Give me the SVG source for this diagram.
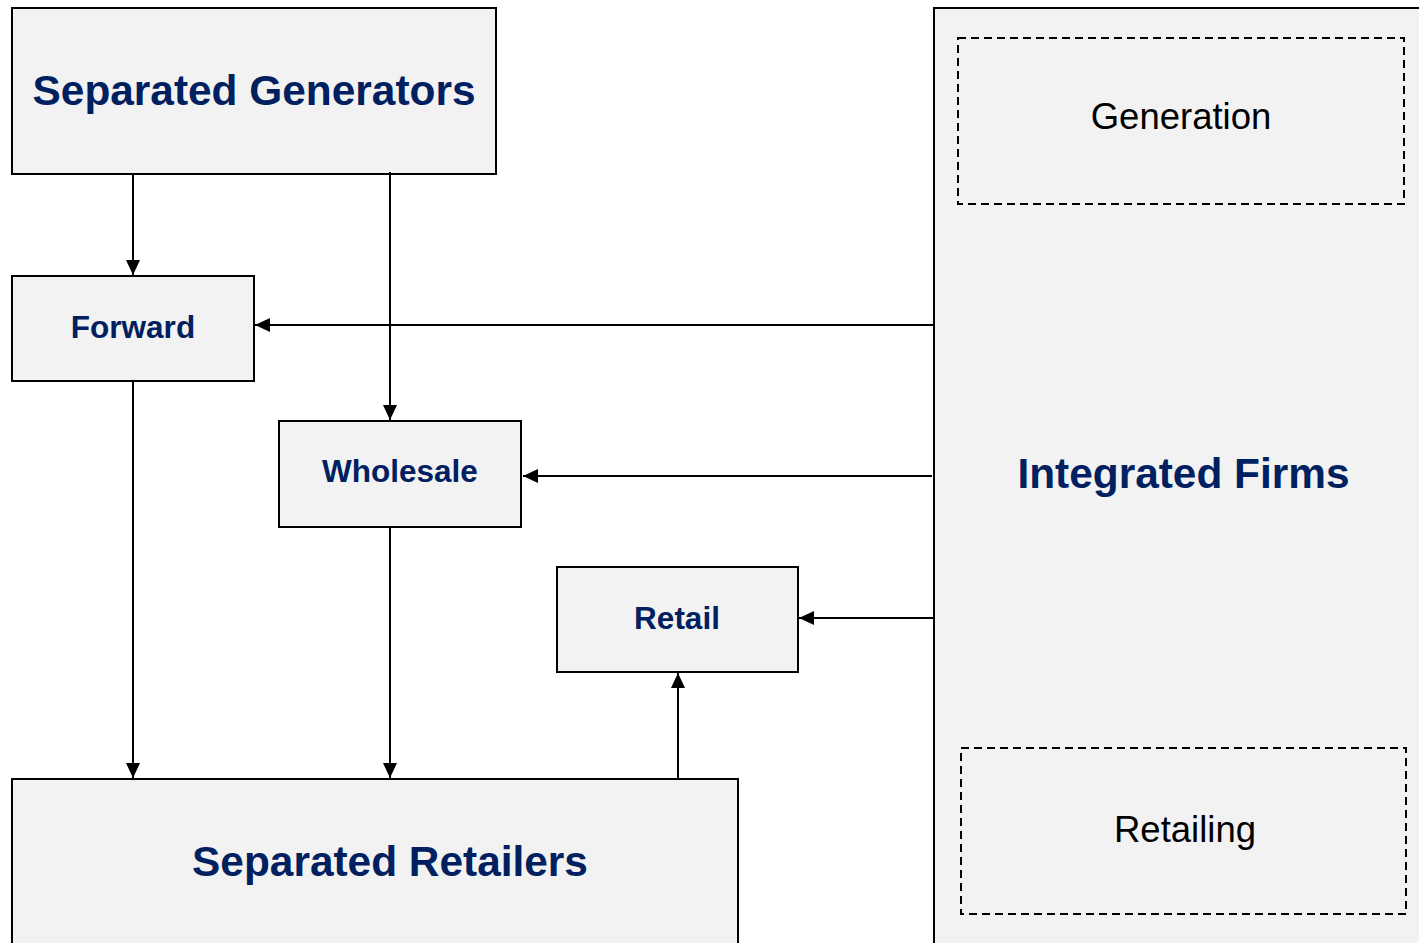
<svg xmlns="http://www.w3.org/2000/svg" width="1419" height="943" viewBox="0 0 1419 943">
  <style>
    .box { fill: #f2f2f2; stroke: #000; stroke-width: 2; }
    .sub { fill: none; stroke: #000; stroke-width: 2; stroke-dasharray: 8 5; }
    .big { font-family: "Liberation Sans", Arial, sans-serif; font-weight: bold; font-size: 42.4px; fill: #002060; text-anchor: middle; }
    .mid { font-family: "Liberation Sans", Arial, sans-serif; font-weight: bold; font-size: 31.5px; fill: #002060; text-anchor: middle; }
    .plain { font-family: "Liberation Sans", Arial, sans-serif; font-size: 36.5px; fill: #000; text-anchor: middle; }
    .link { fill: none; stroke: #000; stroke-width: 2; marker-end: url(#head); }
  </style>
  <defs>
    <marker id="head" viewBox="0 0 15 14" refX="15" refY="7" markerWidth="15" markerHeight="14" markerUnits="userSpaceOnUse" orient="auto">
      <path d="M0,0 L15,7 L0,14 Z" fill="#000"/>
    </marker>
  </defs>
  <rect width="1419" height="943" fill="#fff"/>

  <g id="integrated-firms">
    <rect class="box" x="934" y="8" width="500" height="950"/>
    <text class="big" x="1183.5" y="488">Integrated Firms</text>
  </g>
  <g id="generation">
    <rect class="sub" x="958" y="38" width="446" height="166"/>
    <text class="plain" x="1181" y="129">Generation</text>
  </g>
  <g id="retailing">
    <rect class="sub" x="961" y="748" width="445" height="166"/>
    <text class="plain" x="1185" y="842">Retailing</text>
  </g>

  <g id="separated-generators">
    <rect class="box" x="12" y="8" width="484" height="166"/>
    <text class="big" x="254" y="105">Separated Generators</text>
  </g>
  <g id="forward">
    <rect class="box" x="12" y="276" width="242" height="105"/>
    <text class="mid" x="133" y="338">Forward</text>
  </g>
  <g id="wholesale">
    <rect class="box" x="279" y="421" width="242" height="106"/>
    <text class="mid" x="400" y="482">Wholesale</text>
  </g>
  <g id="retail">
    <rect class="box" x="557" y="567" width="241" height="105"/>
    <text class="mid" x="677" y="629">Retail</text>
  </g>
  <g id="separated-retailers">
    <rect class="box" x="12" y="779" width="726" height="180"/>
    <text class="big" x="390" y="876">Separated Retailers</text>
  </g>

  <g id="connectors">
    <line class="link" x1="133" y1="174" x2="133" y2="275"/>
    <line class="link" x1="390" y1="172" x2="390" y2="420"/>
    <line class="link" x1="934" y1="325" x2="255" y2="325"/>
    <line class="link" x1="932" y1="476" x2="523" y2="476"/>
    <line class="link" x1="934" y1="618" x2="799" y2="618"/>
    <line class="link" x1="133" y1="381" x2="133" y2="778"/>
    <line class="link" x1="390" y1="527" x2="390" y2="778"/>
    <line class="link" x1="678" y1="779" x2="678" y2="673"/>
  </g>
</svg>
